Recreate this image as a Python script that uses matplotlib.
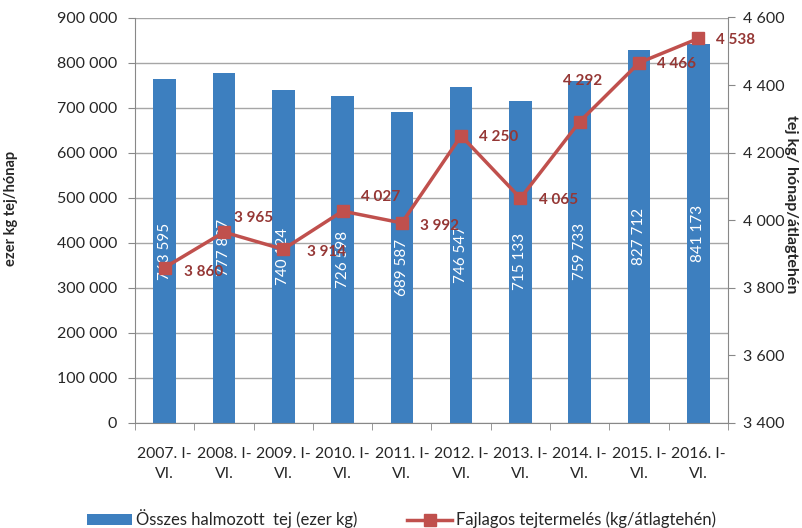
import numpy as np
import matplotlib.pyplot as plt
from matplotlib.ticker import FuncFormatter

plt.rcParams['font.family'] = ['Lato', 'DejaVu Sans']

# data
periods = ["2007. I-\nVI.", "2008. I-\nVI.", "2009. I-\nVI.", "2010. I-\nVI.", "2011. I-\nVI.",
           "2012. I-\nVI.", "2013. I-\nVI.", "2014. I-\nVI.", "2015. I-\nVI.", "2016. I-\nVI."]
total_milk = [763595, 777837, 740124, 726598, 689587, 746547, 715133, 759733, 827712, 841173]
per_cow = [3860, 3965, 3914, 4027, 3992, 4250, 4065, 4292, 4466, 4538]

# label offsets for the line labels (points)
label_offsets = [(14, -3), (7, 10), (17, -2), (13, 10), (13, -2),
                 (13, -1), (13, -1), (-12, 29), (13, -1), (13, -1)]

bar_color = '#3d7fbf'
line_color = '#c0504d'
label_red = '#953735'
text_color = '#262626'

def space_fmt(v, pos=None):
    return f"{int(round(v)):,}".replace(",", " ")

fig = plt.figure(figsize=(8.03, 5.28), dpi=100)
ax = fig.add_axes([135 / 803, 1 - 423 / 528, (728 - 135) / 803, (423 - 17.5) / 528])
x = np.arange(len(periods))

ax.bar(x, total_milk, width=0.38, color=bar_color, zorder=2,
       label="Összes halmozott  tej (ezer kg)")
for xi, v in zip(x, total_milk):
    ax.text(xi, v / 2, space_fmt(v), rotation=90, ha='center', va='center',
            color='white', fontsize=11, zorder=3)

ax.set_xlim(-0.5, len(periods) - 0.5)
ax.set_ylim(0, 900000)
ax.set_yticks(np.arange(0, 900001, 100000))
ax.yaxis.set_major_formatter(FuncFormatter(space_fmt))
ax.grid(axis='y', color='#a6a6a6', lw=1, zorder=0)
ax.set_xticks(x)
ax.set_xticklabels(periods, fontsize=11.3, color=text_color, linespacing=1.55)
ax.set_xticks(np.arange(-0.5, len(periods)), minor=True)
ax.tick_params(axis='x', which='major', length=0, pad=17)
ax.tick_params(axis='x', which='minor', length=5, color='#888888')
ax.tick_params(axis='y', length=5, color='#888888', labelsize=11.5, labelcolor=text_color, pad=8)
for s in ['top', 'right']:
    ax.spines[s].set_visible(False)
for s in ['left', 'bottom']:
    ax.spines[s].set_color('#888888')
ax.set_ylabel("ezer kg tej/hónap", fontsize=10.5, fontweight='bold', color=text_color)
ax.yaxis.set_label_coords((18 - 135) / 593, 0.53)

ax2 = ax.twinx()
ax2.plot(x, per_cow, color=line_color, lw=2.5, marker='s', markersize=8,
         label="Fajlagos tejtermelés (kg/átlagtehén)")
for xi, v, off in zip(x, per_cow, label_offsets):
    ax2.annotate(space_fmt(v), (xi, v), xytext=off, textcoords='offset points',
                 ha='left', va='center', color=label_red, fontsize=11, fontweight='bold')
ax2.set_ylim(3400, 4600)
ax2.set_yticks(np.arange(3400, 4601, 200))
ax2.yaxis.set_major_formatter(FuncFormatter(space_fmt))
ax2.tick_params(axis='y', length=5, color='#888888', labelsize=11.5, labelcolor=text_color, pad=6)
for s in ['top', 'left', 'bottom']:
    ax2.spines[s].set_visible(False)
ax2.spines['right'].set_color('#888888')
ax2.set_ylabel("tej kg/ hónap/átlagtehén", fontsize=11.5, fontweight='bold', color=text_color,
               rotation=-90, va='center')
ax2.yaxis.set_label_coords((791 - 135) / 593, 0.54)

h1, l1 = ax.get_legend_handles_labels()
h2, l2 = ax2.get_legend_handles_labels()
fig.legend(h1 + h2, l1 + l2, loc='center', bbox_to_anchor=(0.5, 1 - 519 / 528), ncol=2,
           frameon=False, fontsize=12, handlelength=2.7, handleheight=0.6,
           handletextpad=0.25, columnspacing=3.0, labelcolor=text_color)

fig.savefig('out.png', dpi=100)
